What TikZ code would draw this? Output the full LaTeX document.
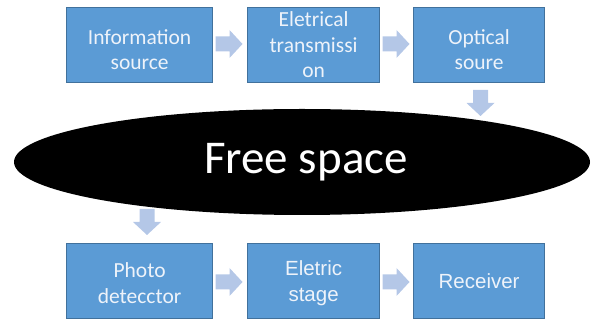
\documentclass[tikz,border=0pt]{standalone}
\usepackage{fontspec}
\setmainfont{Carlito}
\newfontfamily\arialfont{Liberation Sans}
\usetikzlibrary{shapes.geometric,calc}
\definecolor{boxfill}{HTML}{5B9BD5}
\definecolor{boxline}{HTML}{41719C}
\definecolor{arrfill}{HTML}{B4C7E7}
\definecolor{txt}{HTML}{EEF3FA}
\tikzset{
  blockbox/.style={draw=boxline, line width=1.2pt, fill=boxfill, minimum width=146pt, minimum height=75pt,
    inner sep=1pt, align=center, text=txt, font=\fontsize{21.5}{25.5}\selectfont, anchor=north west},
  narrowbox/.style={blockbox, minimum width=132pt, text width=128pt},
  arialtext/.style={font=\arialfont\fontsize{20.5}{25.5}\selectfont},
  blockarrow/.style={fill=arrfill, draw=none},
}
\newcommand{\lowstrut}{\rule{0pt}{24pt}}
% right arrow starting at #1 (tail centre), length 27
\newcommand{\rarrow}[1]{\fill[blockarrow] ($(#1)+(0,-7.5)$) -- ++(14,0) -- ++(0,-6.5) -- ++(13,14) -- ++(-13,14) -- ++(0,-6.5) -- ++(-14,0) -- cycle;}
\newcommand{\darrow}[1]{\fill[blockarrow] ($(#1)+(-7.5,0)$) -- ++(0,13) -- ++(-6.5,0) -- ++(14,13) -- ++(14,-13) -- ++(-6.5,0) -- ++(0,-13) -- cycle;}
\begin{document}
\begin{tikzpicture}[x=1pt,y=-1pt]
\useasboundingbox (0,0) rectangle (598,320);
\node[blockbox] (info) at (66,7) {\lowstrut Information\\source};
\node[narrowbox] (elec) at (247,7) {Eletrical\\transmissi\\on};
\node[blockbox, minimum width=131pt] (opt) at (413,7) {\lowstrut Optical\\soure};
\node[blockbox] (photo) at (66,243) {\rule{0pt}{19pt}Photo\\detecctor};
\node[narrowbox, arialtext] (estage) at (247,243) {\rule{0pt}{19pt}Eletric\\stage};
\node[blockbox, minimum width=131pt, arialtext] (recv) at (413,243) {Receiver};
\node[ellipse, fill=black, minimum width=576pt, minimum height=106pt, inner sep=0pt,
  text=white, font=\fontsize{47}{50}\selectfont] (fs) at (302,162) {\hspace*{8pt}Free space};
\coordinate (a1) at (215.5,44);
\coordinate (a2) at (382.5,44);
\coordinate (a3) at (480.5,90);
\coordinate (a4) at (147,209);
\coordinate (a5) at (215.5,282);
\coordinate (a6) at (382.5,282);
\rarrow{a1}
\rarrow{a2}
\darrow{a3}
\darrow{a4}
\rarrow{a5}
\rarrow{a6}
\end{tikzpicture}
\end{document}
